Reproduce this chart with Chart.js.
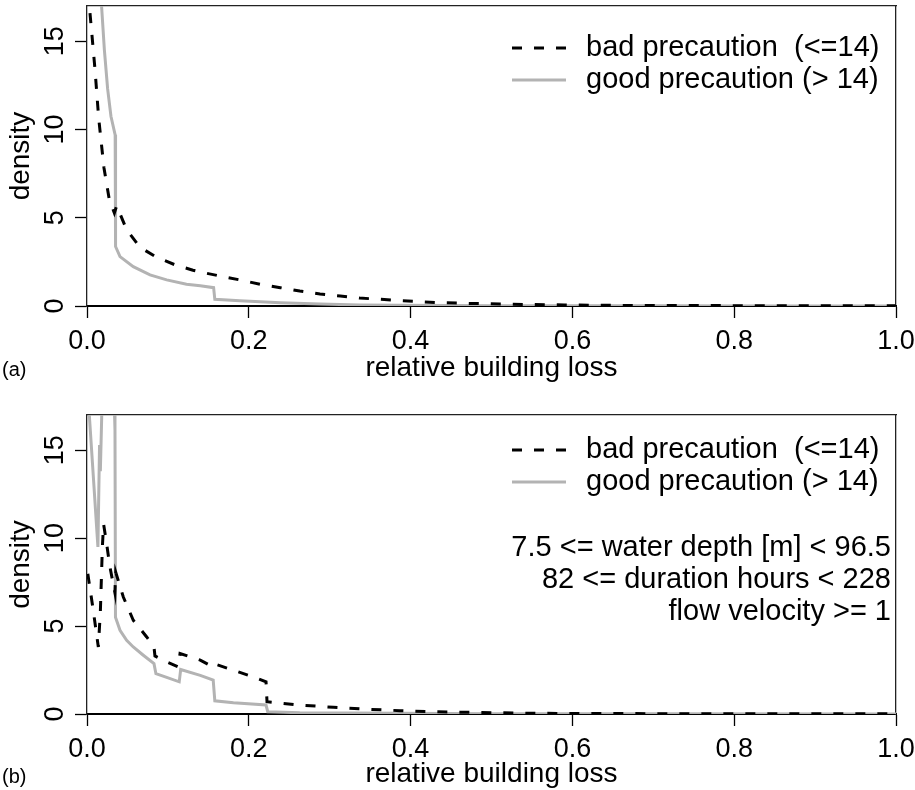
<!DOCTYPE html>
<html><head><meta charset="utf-8">
<script src="https://cdn.jsdelivr.net/npm/chart.js@4"></script>
<style>
html,body{margin:0;padding:0;background:#fff;width:915px;height:790px;overflow:hidden}
.wrap{position:absolute;left:0;width:915px;height:395px}
</style></head><body>
<div class="wrap" style="top:0"><canvas id="c1" width="915" height="395"></canvas></div>
<div class="wrap" style="top:395px"><canvas id="c2" width="915" height="395"></canvas></div>
<script>
// ---- data ----
const seriesNames = ['bad precaution  (<=14)', 'good precaution (> 14)'];
const xTickValues = [0, 0.2, 0.4, 0.6, 0.8, 1.0];
const yTickValues = [0, 5, 10, 15];
const xTitle = 'relative building loss';
const yTitle = 'density';
const panelTags = ['(a)', '(b)'];
const notesB = ['7.5 <= water depth [m] < 96.5', '82 <= duration hours < 228', 'flow velocity >= 1'];

const aBadX = [0.0037, 0.0099, 0.0144, 0.021, 0.0276, 0.0338, 0.0367, 0.049, 0.0655, 0.086, 0.109, 0.131, 0.14, 0.164, 0.189, 0.214, 0.239, 0.263, 0.288, 0.313, 0.337, 0.362, 0.387, 0.41, 0.436, 0.47, 0.51, 0.55, 0.59, 0.63, 0.7, 0.8, 0.9, 1.0];
const aBadY = [16.6, 13.4, 10.66, 7.82, 6.02, 5.27, 5.68, 4.32, 3.33, 2.76, 2.33, 2.03, 1.93, 1.70, 1.48, 1.23, 1.04, 0.85, 0.68, 0.57, 0.45, 0.38, 0.30, 0.25, 0.19, 0.15, 0.11, 0.08, 0.06, 0.04, 0.03, 0.02, 0.015, 0.01];
const aGoodX = [0.004, 0.01, 0.018, 0.0215, 0.0255, 0.0296, 0.0348, 0.0353, 0.0408, 0.0572, 0.0779, 0.0985, 0.123, 0.14, 0.1565, 0.158, 0.189, 0.239, 0.288, 0.337, 0.387, 0.45, 0.5, 0.6, 0.7, 0.85, 1.0];
const aGoodY = [30, 22, 17, 14.5, 12.3, 10.75, 9.7, 3.37, 2.8, 2.23, 1.76, 1.48, 1.23, 1.15, 1.04, 0.38, 0.30, 0.19, 0.11, 0.06, 0.04, 0.03, 0.02, 0.015, 0.01, 0.005, 0.003];

const bBadX = [0.001, 0.0074, 0.014, 0.0165, 0.019, 0.0205, 0.0243, 0.0284, 0.0345, 0.0355, 0.0449, 0.0572, 0.0738, 0.0828, 0.084, 0.0985, 0.1129, 0.115, 0.14, 0.154, 0.156, 0.181, 0.2055, 0.2213, 0.2225, 0.263, 0.3045, 0.3457, 0.387, 0.4277, 0.469, 0.551, 0.6, 0.7, 0.8, 0.9, 1.0];
const bBadY = [7.97, 6.0, 3.81, 5.8, 9.5, 10.8, 9.67, 8.35, 6.9, 8.06, 6.65, 5.33, 4.38, 3.81, 3.3, 2.96, 2.68, 3.44, 3.06, 2.72, 2.87, 2.49, 2.11, 1.83, 0.70, 0.51, 0.38, 0.27, 0.19, 0.13, 0.10, 0.04, 0.03, 0.02, 0.015, 0.012, 0.01];
const bGoodX = [0, 0.003, 0.0135, 0.0155, 0.0165, 0.0185, 0.02, 0.026, 0.0335, 0.0346, 0.0352, 0.0408, 0.049, 0.0572, 0.0696, 0.0828, 0.0852, 0.0985, 0.114, 0.1158, 0.14, 0.156, 0.158, 0.181, 0.2213, 0.2234, 0.263, 0.387, 0.5, 0.7, 1.0];
const bGoodY = [19, 16.9, 9.5, 15.3, 13.8, 17.5, 20, 22, 18, 16.1, 5.5, 4.76, 4.19, 3.81, 3.34, 2.86, 2.29, 2.08, 1.83, 2.53, 2.2, 1.93, 0.75, 0.64, 0.51, 0.13, 0.07, 0.04, 0.02, 0.01, 0.005];

// ---- rendering ----
const FONT = "'Liberation Sans', Arial, Helvetica, sans-serif";
const pts = (xs, ys) => xs.map((x, i) => ({x, y: ys[i]}));

const decor = {
  id: 'decor',
  afterDraw(chart, args, o) {
    const ctx = chart.ctx;
    ctx.save();
    ctx.fillStyle = '#000';
    // rotated y tick labels from the y scale's own ticks
    const ys = chart.scales.y;
    ctx.font = '27px ' + FONT;
    ctx.textAlign = 'center';
    ctx.textBaseline = 'alphabetic';
    ys.ticks.forEach(t => {
      const py = ys.getPixelForValue(t.value);
      ctx.save();
      ctx.translate(o.yTickX, py);
      ctx.rotate(-Math.PI / 2);
      ctx.fillText(String(t.value), 0, 0);
      ctx.restore();
    });
    // legend
    ctx.font = o.legendFont;
    chart.data.datasets.forEach((ds, i) => {
      const y = o.legendY[i];
      ctx.beginPath();
      ctx.setLineDash(ds.borderDash || []);
      ctx.lineWidth = ds.borderWidth;
      ctx.strokeStyle = ds.borderColor;
      ctx.moveTo(o.legendX0, y);
      ctx.lineTo(o.legendX1, y);
      ctx.stroke();
      ctx.setLineDash([]);
      ctx.textAlign = 'left';
      ctx.textBaseline = 'middle';
      ctx.fillText(ds.label, o.legendTextX, y);
    });
    // notes
    ctx.textAlign = 'right';
    ctx.textBaseline = 'middle';
    (o.notes || []).forEach((t, i) => ctx.fillText(t, o.notesX, o.notesY[i]));
    // panel tag
    ctx.font = o.tagFont;
    ctx.textAlign = 'left';
    ctx.textBaseline = 'middle';
    ctx.fillText(o.tag, o.tagX, o.tagY);
    ctx.restore();
  }
};

function makePanel(id, badX, badY, goodX, goodY, cfg) {
  const tickGrid = {display: true, drawOnChartArea: false, drawTicks: true, tickLength: 12, tickWidth: 1.3, tickColor: '#000'};
  return new Chart(document.getElementById(id), {
    type: 'line',
    data: {
      datasets: [
        {label: seriesNames[0], data: pts(badX, badY), borderColor: '#000', borderWidth: 3, borderDash: [10, 12], pointRadius: 0, tension: 0, fill: false},
        {label: seriesNames[1], data: pts(goodX, goodY), borderColor: '#b3b3b3', borderWidth: 3, pointRadius: 0, tension: 0, fill: false}
      ]
    },
    options: {
      responsive: false,
      animation: false,
      devicePixelRatio: 1,
      parsing: true,
      layout: {padding: {left: 0, right: 19, top: cfg.top, bottom: cfg.padBottom}},
      plugins: {legend: {display: false}, tooltip: {enabled: false}, decor: cfg.decor},
      scales: {
        x: {
          type: 'linear', position: 'bottom', min: 0, max: 1,
          afterBuildTicks: s => { s.ticks = xTickValues.map(v => ({value: v})); },
          afterFit: s => { s.height = cfg.axisH; s.paddingLeft = 0; s.paddingRight = 0; },
          ticks: {callback: v => Number(v).toFixed(1), font: {family: FONT, size: 27, lineHeight: 1.2}, color: '#000', padding: 7, maxRotation: 0, minRotation: 0, autoSkip: false},
          grid: tickGrid,
          border: {display: true, color: '#000', width: 2},
          title: {display: true, text: xTitle, color: '#000', font: {family: FONT, size: 28, lineHeight: 1}, padding: {top: 0, bottom: 0}}
        },
        y: {
          type: 'linear', position: 'left', min: 0, max: 17,
          afterBuildTicks: s => { s.ticks = yTickValues.map(v => ({value: v})); },
          afterFit: s => { s.width = 87; },
          ticks: {display: false},
          grid: tickGrid,
          border: {display: true, color: '#222', width: 1.3},
          title: {display: true, text: yTitle, color: '#000', font: {family: FONT, size: 28, lineHeight: 1}, padding: {top: 7, bottom: 0}}
        },
        xTop: {
          type: 'linear', position: 'top', min: 0, max: 1,
          afterFit: s => { s.height = 0; },
          ticks: {display: false}, grid: {display: false},
          border: {display: true, color: '#222', width: 1.3}
        },
        yRight: {
          type: 'linear', position: 'right', min: 0, max: 17,
          afterFit: s => { s.width = 0; },
          ticks: {display: false}, grid: {display: false},
          border: {display: true, color: '#222', width: 1.3}
        }
      }
    },
    plugins: [decor]
  });
}

makePanel('c1', aBadX, aBadY, aGoodX, aGoodY, {
  top: 6, axisH: 76, padBottom: 13,
  decor: {yTickX: 63, legendFont: '29px ' + FONT, legendY: [48, 80], legendX0: 512, legendX1: 566, legendTextX: 586,
          notes: [], notesX: 891, notesY: [], tagFont: '20px ' + FONT, tag: panelTags[0], tagX: 2, tagY: 370}
});
makePanel('c2', bBadX, bBadY, bGoodX, bGoodY, {
  top: 20, axisH: 74, padBottom: 2,
  decor: {yTickX: 63, legendFont: '29px ' + FONT, legendY: [55, 87], legendX0: 512, legendX1: 566, legendTextX: 586,
          notes: notesB, notesX: 891, notesY: [153, 185, 217], tagFont: '20px ' + FONT, tag: panelTags[1], tagX: 2, tagY: 382}
});
</script>
</body></html>
